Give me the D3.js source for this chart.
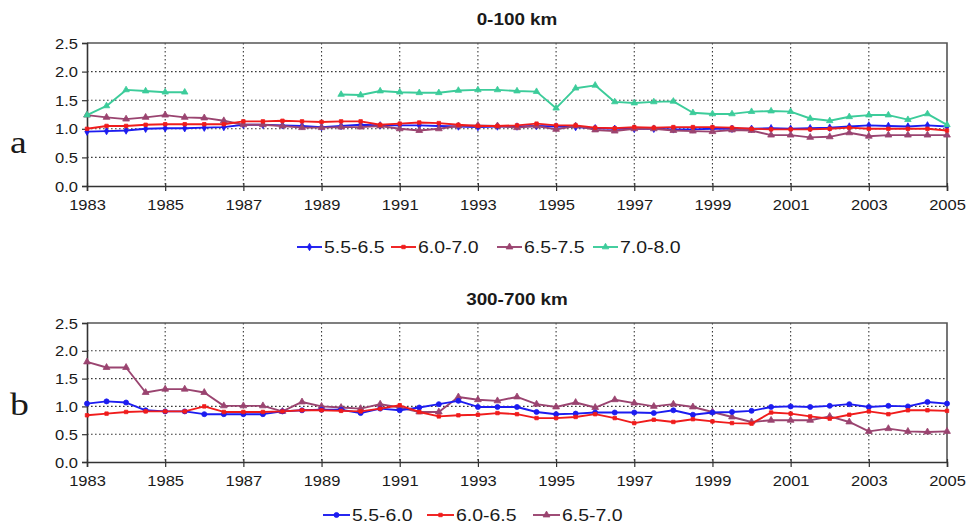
<!DOCTYPE html>
<html>
<head>
<meta charset="utf-8">
<script src="https://cdn.jsdelivr.net/npm/d3@7"></script>
<style>
  html, body { margin: 0; padding: 0; background: #fff; }
  svg { display: block; }
  text { font-family: "Liberation Sans", Arial, sans-serif; fill: #1a1a1a; }
</style>
</head>
<body>
<svg id="chart" width="970" height="526"></svg>
<script>
// Half-yearly sample times
const years = [1983, 1983.5, 1984, 1984.5, 1985, 1985.5, 1986, 1986.5,
  1987, 1987.5, 1988, 1988.5, 1989, 1989.5, 1990, 1990.5,
  1991, 1991.5, 1992, 1992.5, 1993, 1993.5, 1994, 1994.5,
  1995, 1995.5, 1996, 1996.5, 1997, 1997.5, 1998, 1998.5,
  1999, 1999.5, 2000, 2000.5, 2001, 2001.5, 2002, 2002.5,
  2003, 2003.5, 2004, 2004.5, 2005];

const xTicks = [1983, 1985, 1987, 1989, 1991, 1993, 1995, 1997, 1999, 2001, 2003, 2005];
const yTicks = [0, 0.5, 1.0, 1.5, 2.0, 2.5];

// Panel a: depth 0-100 km
const shallowNames = ["5.5-6.5", "6.0-7.0", "6.5-7.5", "7.0-8.0"];
const shallow55 = [0.95, 0.96, 0.97, 1.00, 1.01, 1.01, 1.02, 1.03,
  1.07, 1.07, 1.06, 1.05, 1.03, 1.05, 1.07, 1.06,
  1.06, 1.06, 1.05, 1.04, 1.03, 1.04, 1.04, 1.05,
  1.04, 1.03, 1.01, 1.00, 1.00, 1.00, 0.99, 0.99,
  1.00, 1.00, 1.00, 1.01, 1.00, 1.01, 1.02, 1.04,
  1.06, 1.05, 1.04, 1.06, 1.04];
const shallow60 = [1.00, 1.05, 1.05, 1.07, 1.08, 1.08, 1.08, 1.08,
  1.13, 1.13, 1.14, 1.13, 1.12, 1.13, 1.13, 1.07,
  1.09, 1.11, 1.10, 1.07, 1.05, 1.05, 1.06, 1.09,
  1.06, 1.06, 1.02, 1.01, 1.03, 1.02, 1.03, 1.03,
  1.03, 1.02, 1.00, 0.99, 0.99, 0.99, 1.00, 1.02,
  1.00, 1.00, 1.00, 1.00, 0.97];
const shallow65 = [1.24, 1.20, 1.17, 1.20, 1.24, 1.20, 1.19, 1.14,
  1.07, 1.07, 1.05, 1.02, 1.02, 1.03, 1.03, 1.05,
  1.00, 0.97, 1.00, 1.05, 1.06, 1.05, 1.02, 1.05,
  0.99, 1.05, 0.98, 0.96, 1.00, 1.00, 0.97, 0.96,
  0.95, 0.98, 0.97, 0.89, 0.89, 0.85, 0.86, 0.93,
  0.87, 0.89, 0.89, 0.89, 0.89];
const shallow70 = [1.24, 1.40, 1.68, 1.66, 1.64, 1.64, null, null,
  null, null, null, null, null, 1.60, 1.59, 1.66,
  1.64, 1.63, 1.63, 1.67, 1.68, 1.68, 1.66, 1.65,
  1.36, 1.71, 1.76, 1.47, 1.45, 1.47, 1.48, 1.28,
  1.26, 1.26, 1.30, 1.31, 1.30, 1.18, 1.14, 1.21,
  1.24, 1.24, 1.16, 1.26, 1.07];

// Panel b: depth 300-700 km
const deepNames = ["5.5-6.0", "6.0-6.5", "6.5-7.0"];
const deep55 = [1.05, 1.09, 1.07, 0.93, 0.91, 0.91, 0.86, 0.86,
  0.86, 0.86, 0.91, 0.93, 0.94, 0.94, 0.88, 0.96,
  0.93, 0.98, 1.04, 1.10, 0.99, 0.99, 0.99, 0.90,
  0.86, 0.87, 0.89, 0.89, 0.89, 0.88, 0.93, 0.85,
  0.89, 0.90, 0.92, 0.99, 1.00, 0.99, 1.01, 1.04,
  0.99, 1.01, 1.00, 1.08, 1.05];
const deep60 = [0.84, 0.87, 0.90, 0.91, 0.91, 0.91, 1.00, 0.90,
  0.90, 0.90, 0.91, 0.93, 0.93, 0.92, 0.91, 0.96,
  1.02, 0.90, 0.82, 0.84, 0.85, 0.88, 0.86, 0.79,
  0.79, 0.81, 0.86, 0.79, 0.70, 0.76, 0.72, 0.77,
  0.73, 0.70, 0.69, 0.89, 0.87, 0.82, 0.78, 0.85,
  0.91, 0.86, 0.93, 0.93, 0.92];
const deep65 = [1.80, 1.70, 1.70, 1.25, 1.31, 1.31, 1.25, 1.01,
  1.01, 1.01, 0.91, 1.08, 1.00, 0.98, 0.96, 1.04,
  0.98, 0.90, 0.90, 1.17, 1.12, 1.10, 1.17, 1.04,
  0.99, 1.07, 0.98, 1.12, 1.06, 1.00, 1.04, 0.99,
  0.90, 0.81, 0.72, 0.75, 0.75, 0.75, 0.82, 0.72,
  0.55, 0.60, 0.55, 0.54, 0.55];

const BLUE = "#1c1cf0", RED = "#f01c1c", PLUM = "#9a4470", TEAL = "#3ccc9a";
const SX = 1.18; // horizontal stretch of all lettering

const svg = d3.select("#chart");

function label(g, x, y, str, anchor, size, weight, family) {
  return g.append("text")
    .attr("transform", `translate(${x},${y}) scale(${SX},1)`)
    .attr("text-anchor", anchor || "start")
    .style("font-size", (size || 14) + "px")
    .style("font-weight", weight || "normal")
    .style("font-family", family || null)
    .text(str);
}

const panels = [
  {
    title: "0-100 km", letter: "a", top: 43, bottom: 186, letterY: 153,
    titleY: 25, legendY: 247, legendX: [297, 391, 497, 593], legendLine: 25,
    series: [
      { name: shallowNames[0], values: shallow55, color: BLUE, symbol: d3.symbolDiamond, size: 16 },
      { name: shallowNames[2], values: shallow65, color: PLUM, symbol: d3.symbolTriangle, size: 20 },
      { name: shallowNames[1], values: shallow60, color: RED, symbol: d3.symbolSquare, size: 12 },
      { name: shallowNames[3], values: shallow70, color: TEAL, symbol: d3.symbolTriangle, size: 18 }
    ],
    legendOrder: [0, 2, 1, 3]
  },
  {
    title: "300-700 km", letter: "b", top: 323, bottom: 462, letterY: 415,
    titleY: 305, legendY: 515, legendX: [323, 427, 533], legendLine: 27,
    series: [
      { name: deepNames[2], values: deep65, color: PLUM, symbol: d3.symbolTriangle, size: 20 },
      { name: deepNames[0], values: deep55, color: BLUE, symbol: d3.symbolCircle, size: 20 },
      { name: deepNames[1], values: deep60, color: RED, symbol: d3.symbolSquare, size: 12 }
    ],
    legendOrder: [1, 2, 0]
  }
];

const left = 87, right = 947;

panels.forEach(p => {
  const g = svg.append("g");
  const x = d3.scaleLinear().domain([1983, 2005]).range([left, right]);
  const y = d3.scaleLinear().domain([0, 2.5]).range([p.bottom, p.top]);

  // dotted grid
  g.append("g").selectAll("line.h").data(yTicks.filter(v => v > 0 && v < 2.5)).join("line")
    .attr("x1", left).attr("x2", right)
    .attr("y1", d => y(d)).attr("y2", d => y(d))
    .attr("stroke", "#3a3a3a").attr("stroke-width", 1.1).attr("stroke-dasharray", "1.6,2.4");
  g.append("g").selectAll("line.v").data(xTicks.filter(v => v > 1983 && v < 2005)).join("line")
    .attr("x1", d => x(d)).attr("x2", d => x(d))
    .attr("y1", p.top).attr("y2", p.bottom)
    .attr("stroke", "#3a3a3a").attr("stroke-width", 1.1).attr("stroke-dasharray", "1.6,2.4");

  // frame: top and right edges
  g.append("path")
    .attr("d", `M${left},${p.top}H${right}V${p.bottom}`)
    .attr("fill", "none").attr("stroke", "#555").attr("stroke-width", 1.6);

  // axes
  const ya = d3.axisLeft(y).tickValues(yTicks).tickSize(5).tickFormat(d3.format(".1f"));
  const yg = g.append("g").attr("transform", `translate(${left},0)`).call(ya);
  yg.select(".domain").attr("stroke", "#333").attr("stroke-width", 1.6);
  yg.selectAll(".tick line").attr("stroke", "#333").attr("stroke-width", 1.2);
  yg.selectAll(".tick text")
    .attr("x", null).attr("dy", null)
    .attr("transform", `translate(-9,5) scale(${SX},1)`)
    .style("font-size", "14px").style("fill", "#1a1a1a")
    .style("font-family", "'Liberation Sans', Arial, sans-serif");

  const xa = d3.axisBottom(x).tickValues(xTicks).tickSize(5).tickFormat(d3.format("d"));
  const xg = g.append("g").attr("transform", `translate(0,${p.bottom})`).call(xa);
  xg.select(".domain").attr("stroke", "#333").attr("stroke-width", 1.6);
  xg.selectAll(".tick line").attr("stroke", "#333").attr("stroke-width", 1.2).attr("y1", -3);
  xg.selectAll(".tick text")
    .attr("y", null).attr("dy", null)
    .attr("transform", `translate(0,24) scale(${SX},1)`)
    .style("font-size", "14px").style("fill", "#1a1a1a")
    .style("font-family", "'Liberation Sans', Arial, sans-serif");

  // title and panel letter
  label(g, (left + right) / 2, p.titleY, p.title, "middle", 16, "bold");
  label(g, 10, p.letterY, p.letter, "start", 32, "normal", "'Liberation Serif', 'Times New Roman', serif");

  // series
  const line = d3.line()
    .defined(d => d[1] !== null)
    .x(d => x(d[0])).y(d => y(d[1]));

  p.series.forEach(s => {
    const pts = years.map((yr, i) => [yr, s.values[i]]);
    g.append("path").datum(pts)
      .attr("d", line)
      .attr("fill", "none").attr("stroke", s.color)
      .attr("stroke-width", 1.9).attr("stroke-linejoin", "round");
    g.append("g").selectAll("path").data(pts.filter(d => d[1] !== null)).join("path")
      .attr("d", d3.symbol().type(s.symbol).size(s.size))
      .attr("transform", d => `translate(${x(d[0])},${y(d[1])})`)
      .attr("fill", s.color).attr("stroke", s.color).attr("stroke-width", 0.8);
  });

  // legend
  p.legendOrder.forEach((si, k) => {
    const s = p.series[si];
    const x0 = p.legendX[k];
    const lg = g.append("g");
    lg.append("line")
      .attr("x1", x0).attr("x2", x0 + p.legendLine)
      .attr("y1", p.legendY).attr("y2", p.legendY)
      .attr("stroke", s.color).attr("stroke-width", 1.9);
    lg.append("path")
      .attr("d", d3.symbol().type(s.symbol).size(s.size))
      .attr("transform", `translate(${x0 + p.legendLine / 2},${p.legendY})`)
      .attr("fill", s.color).attr("stroke", s.color).attr("stroke-width", 0.8);
    label(lg, x0 + p.legendLine + 2, p.legendY + 6, s.name, "start", 16.5);
  });
});
</script>
</body>
</html>
